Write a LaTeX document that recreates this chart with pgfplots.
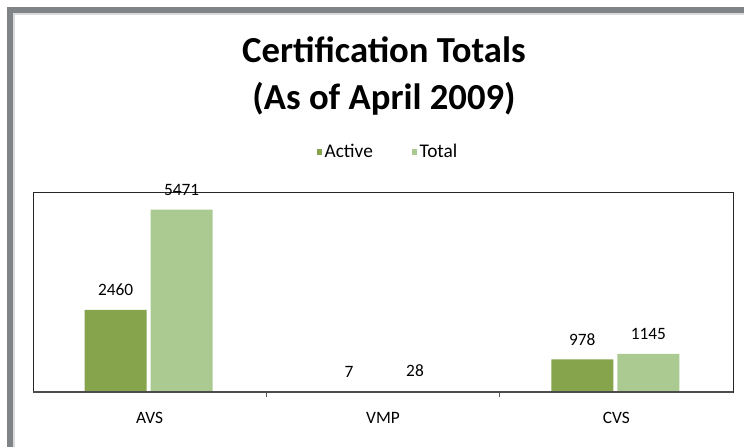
\documentclass[border=0pt]{standalone}
\usepackage{pgfplots}
\pgfplotsset{compat=1.18}
\usepackage{fontspec}
\setmainfont{Carlito}
\definecolor{actg}{RGB}{134,164,76}
\definecolor{totg}{RGB}{171,202,145}
\definecolor{frameg}{RGB}{128,132,135}
\begin{document}
\begin{tikzpicture}[x=0.75pt,y=0.75pt]
\useasboundingbox (0,0) rectangle (744,447);
\fill[frameg] (7,0) rectangle (13,440);
\fill[frameg] (7,434) rectangle (744,440);
\fill[frameg!30] (13,0) rectangle (15,434);
\fill[frameg!30] (13,432) rectangle (744,434);
\node[align=center,font=\fontsize{27.5}{35}\selectfont\bfseries] at (384,371) {Certification Totals\\(As of April 2009)};
\begin{axis}[
  at={(24.75pt,41.25pt)}, anchor=south west,
  scale only axis, width=525pt, height=150pt,
  xmin=-0.5, xmax=2.5, ymin=0, ymax=6000,
  ybar, bar width=46.5pt,
  xtick={0,1,2}, xticklabels={AVS,VMP,CVS},
  xtick pos=lower,
  major tick length=0pt,
  minor xtick={0.5,1.5}, minor tick length=4pt, tick align=outside,
  minor tick style={draw=gray!70!black, line width=0.8pt},
  ytick=\empty,
  axis line style={draw=black!85, line width=0.7pt},
  ticklabel style={font=\fontsize{13}{15}\selectfont},
  xticklabel style={yshift=-12pt},
  clip=false,
  nodes near coords,
  every node near coord/.append style={font=\fontsize{13}{15}\selectfont, yshift=7pt},
  /pgf/number format/assume math mode=true,
  /pgf/number format/fixed, /pgf/number format/1000 sep={},
  legend columns=2,
  legend style={draw=none, fill=none, at={(0.5,1)}, anchor=center, xshift=4pt, yshift=30pt, font=\fontsize{14.5}{16}\selectfont, /tikz/every even column/.append style={column sep=27pt}},
  legend image code/.code={\fill[#1] (0pt,-2.5pt) rectangle (4pt,2.5pt);},
]
\addplot[fill=actg, draw=none, bar shift=-25.5pt] coordinates {(0,2460) (1,7) (2,978)};
\addplot[fill=totg, draw=none, bar shift=24pt] coordinates {(0,5471) (1,28) (2,1145)};
\legend{Active,Total}
\draw[line width=2.2pt, black!70] (rel axis cs:0,0) -- (rel axis cs:1,0);
\end{axis}
\end{tikzpicture}
\end{document}
